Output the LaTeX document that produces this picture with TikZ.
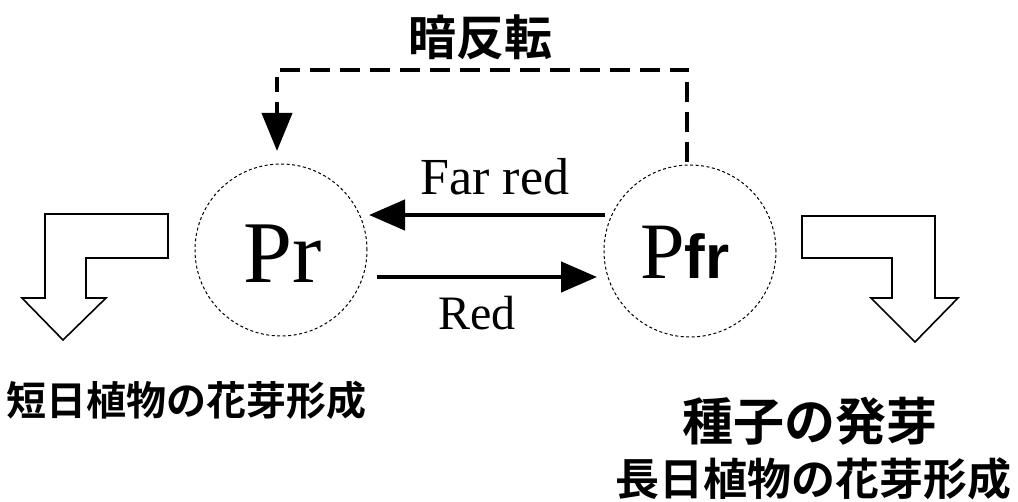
\documentclass[tikz,border=0pt]{standalone}
\usepackage{fontspec}
\setmainfont{Liberation Serif}
\newfontfamily\jpfont{Noto Sans CJK JP}[BoldFont={Noto Sans CJK JP Bold}]
\newfontfamily\sansbold{Liberation Sans}
\usetikzlibrary{arrows.meta}
\begin{document}
\begin{tikzpicture}[x=1pt,y=-1pt,
  phyto/.style={circle,draw,dash pattern=on 3pt off 2.5pt,line width=1pt,minimum size=172pt,inner sep=0pt},
  thick arrow/.style={line width=4.5pt,-{Triangle[length=36pt,width=30pt]}},
  dark/.style={line width=4pt,dash pattern=on 20pt off 10pt},
  bent/.style={draw,line width=1.6pt,line join=miter,fill=white},
  jp/.style={font=\jpfont\bfseries,inner sep=0pt},
  lbl/.style={inner sep=0pt}]
\useasboundingbox (0,0) rectangle (1018,502);
% circles
\node[phyto] (pr) at (281,250) {};
\node[phyto] (pfr) at (690,251) {};
\node[lbl,anchor=base] (prtxt) at (283,283) {\fontsize{88}{88}\selectfont Pr};
\node[lbl,anchor=base west] (pfrtxt) at (640,279) {\fontsize{80}{80}\selectfont P{\sansbold\bfseries\fontsize{62}{62}\selectfont fr}};
% far red / red arrows
\coordinate (frs) at (605,215);
\coordinate (fre) at (369,215);
\draw[thick arrow] (frs) -- (fre);
\coordinate (rs) at (377,277);
\coordinate (re) at (597,277);
\draw[thick arrow] (rs) -- (re);
\node[lbl,anchor=base] (farred) at (495,195) {\fontsize{52}{52}\selectfont Far red};
\node[lbl,anchor=base] (red) at (477,330) {\fontsize{48}{48}\selectfont Red};
% dark reversion
\coordinate (d1) at (687,70);
\coordinate (d2) at (277,70);
\coordinate (d3) at (277,92);
\coordinate (a1) at (277,102);
\coordinate (a2) at (277,151);
\draw[dark] (pfr.north -| d1) ++(0,-2) -- (d1) -- (d2) -- (d3);
\draw[line width=4pt,-{Triangle[length=38pt,width=30pt]}] (a1) -- (a2);
\node[jp,font=\jpfont\bfseries\fontsize{48}{48}\selectfont] (dark) at (480,37) {暗反転};
% bent arrows
\draw[bent] (45,214) -- (168,214) -- (168,258) -- (86,258) -- (86,298) -- (106,298) -- (63,340) -- (22,298) -- (45,298) -- cycle;
\draw[bent] (802,216) -- (935,216) -- (935,298) -- (958,298) -- (915,342) -- (871,298) -- (892,298) -- (892,258) -- (802,258) -- cycle;
% bottom labels
\node[jp,anchor=west,font=\jpfont\bfseries\fontsize{40}{40}\selectfont] (sd) at (6,400) {短日植物の花芽形成};
\node[jp,anchor=west,font=\jpfont\bfseries\fontsize{51}{51}\selectfont] (seed) at (682,421) {種子の発芽};
\node[jp,anchor=east,font=\jpfont\bfseries\fontsize{44}{44}\selectfont] (ld) at (1012,479) {長日植物の花芽形成};
\end{tikzpicture}
\end{document}
